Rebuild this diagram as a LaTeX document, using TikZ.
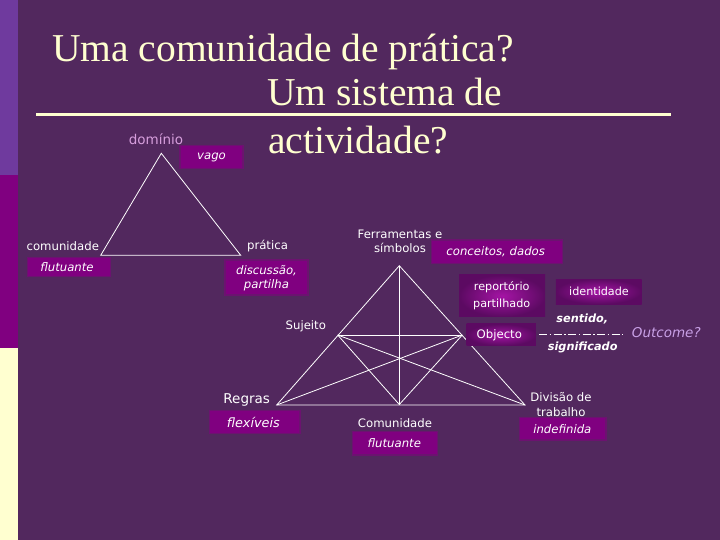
\documentclass[tikz,border=0pt]{standalone}
\usepackage{fontspec}
\setmainfont{Liberation Serif}
\newfontfamily\lblfont{DejaVu Sans}
\definecolor{bgc}{RGB}{82,40,94}
\definecolor{stripA}{RGB}{111,58,158}
\definecolor{stripB}{RGB}{128,0,128}
\definecolor{cream}{RGB}{255,255,208}
\definecolor{boxc}{RGB}{128,0,128}
\definecolor{boxedge}{RGB}{108,18,112}
\definecolor{glowin}{RGB}{165,20,165}
\definecolor{glowout}{RGB}{92,10,98}
\definecolor{lav}{RGB}{214,158,220}
\definecolor{lavout}{RGB}{200,160,230}
\begin{document}
\begin{tikzpicture}[x=1pt,y=-1pt,
  lbl/.style={font=\lblfont\fontsize{11.7}{13.5}\selectfont, text=white, inner sep=0pt, align=center},
  itl/.style={font=\lblfont\itshape\fontsize{11.7}{14}\selectfont, text=white, inner sep=0pt, align=center},
  pbox/.style={fill=boxc, draw=boxedge, line width=1.2pt},
  gbox/.style={shade, shading=radial, inner color=glowin, outer color=glowout},
  tline/.style={draw=white, line width=0.8pt},
  ttl/.style={font=\fontsize{39.5}{44}\selectfont, text=cream, inner sep=0pt, anchor=base west}]
% background
\useasboundingbox (0,0) rectangle (720,540);
\fill[bgc] (0,0) rectangle (720,540);
\fill[stripA] (0,0) rectangle (18,175);
\fill[stripB] (0,175) rectangle (18,348);
\fill[cream] (0,348) rectangle (18,540);
% title
\node[ttl] (t1) at (52,62) {Uma comunidade de prática?};
\node[ttl] (t2) at (267,106) {Um sistema de};
\node[ttl] (t3) at (268,154) {actividade?};
\coordinate (ulA) at (36,115);
\coordinate (ulB) at (671,115);
\draw[cream, line width=3pt] (ulA) -- (ulB);
% small triangle
\coordinate (sA) at (161.3,153.3);
\coordinate (sL) at (100.7,255.3);
\coordinate (sR) at (240.7,255.3);
\draw[tline] (sA) -- (sL) -- (sR) -- cycle;
\node[lbl, text=lav, font=\lblfont\fontsize{13.5}{15}\selectfont] (dom) at (156,139) {domínio};
\node[pbox, minimum width=63pt, minimum height=23pt] (vagoB) at (211.5,157) {};
\node[itl] (vago) at (211.5,157) {vago};
\node[lbl] (com) at (62.8,246) {comunidade};
\node[pbox, minimum width=83pt, minimum height=19pt] (flut1B) at (69.3,267.3) {};
\node[itl] (flut1) at (67,267) {flutuante};
\node[lbl] (prat) at (267.5,246.5) {prática};
\node[pbox, minimum width=83pt, minimum height=35pt] (discB) at (266.5,277.5) {};
\node[itl] (disc) at (266.5,278) {discussão,\\partilha};
% big triangle
\coordinate (A) at (399.3,265.7);
\coordinate (S) at (337.7,335);
\coordinate (O) at (462.3,335);
\coordinate (R) at (276.7,405);
\coordinate (D) at (525,405);
\coordinate (M) at (399.3,404.5);
\draw[tline] (A) -- (R) -- (D) -- cycle;
\draw[tline] (S) -- (O);
\draw[tline] (A) -- (M);
\draw[tline] (S) -- (D);
\draw[tline] (O) -- (R);
\draw[tline] (S) -- (M);
\draw[tline] (O) -- (M);
\node[lbl] (ferr) at (400,241.5) {Ferramentas e\\símbolos};
\node[pbox, minimum width=131pt, minimum height=23.3pt] (concB) at (497.2,251.7) {};
\node[itl] (conc) at (495.7,251.7) {conceitos, dados};
\node[gbox, minimum width=86pt, minimum height=41.7pt] (repB) at (502,295.8) {};
\node[lbl, font=\lblfont\fontsize{11.2}{16.5}\selectfont] (rep) at (501.7,295.8) {reportório\\partilhado};
\node[gbox, minimum width=85.7pt, minimum height=25pt] (identB) at (598.8,291.5) {};
\node[lbl, font=\lblfont\fontsize{11.2}{13}\selectfont] (ident) at (599,291) {identidade};
\node[gbox, minimum width=69.3pt, minimum height=21.7pt] (objB) at (501.3,334.8) {};
\node[lbl] (obj) at (499.3,335) {Objecto};
\node[lbl, font=\lblfont\bfseries\itshape\fontsize{11.3}{13}\selectfont] (sent) at (582.3,319.3) {sentido,};
\node[lbl, font=\lblfont\bfseries\itshape\fontsize{11.3}{13}\selectfont] (sig) at (582.7,347.3) {significado};
\coordinate (dA) at (539,334.3);
\coordinate (dB) at (622.7,334.3);
\draw[white, line width=1.2pt, dash pattern=on 8pt off 2.5pt on 1.5pt off 2.5pt] (dA) -- (dB);
\node[lbl, text=lavout, font=\lblfont\itshape\fontsize{13.5}{15}\selectfont, anchor=west] (out) at (631.7,332.7) {Outcome?};
\node[lbl] (suj) at (305.8,326) {Sujeito};
\node[lbl, font=\lblfont\fontsize{13.5}{15}\selectfont] (reg) at (246.7,400) {Regras};
\node[pbox, minimum width=90.7pt, minimum height=22.6pt] (flexB) at (254.7,422) {};
\node[itl, font=\lblfont\itshape\fontsize{12.8}{14}\selectfont] (flex) at (253.3,422.3) {flexíveis};
\node[lbl] (comu) at (395,423.3) {Comunidade};
\node[pbox, minimum width=84.6pt, minimum height=23.3pt] (flut2B) at (395,443.3) {};
\node[itl] (flut2) at (394.3,443.3) {flutuante};
\node[lbl, font=\lblfont\fontsize{11.7}{15}\selectfont] (div) at (561,404.2) {Divisão de\\trabalho};
\node[pbox, minimum width=86.7pt, minimum height=22.3pt] (indefB) at (562.7,428.8) {};
\node[itl] (indef) at (562.3,429.3) {indefinida};
\end{tikzpicture}
\end{document}
